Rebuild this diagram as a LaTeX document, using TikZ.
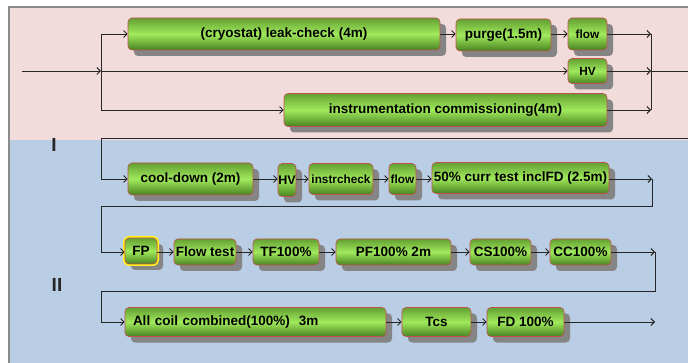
\documentclass[tikz,border=0pt]{standalone}
\usepackage{fontspec}
\setmainfont{Liberation Sans}
\usetikzlibrary{arrows.meta,shadows,calc}
\definecolor{pinkbg}{RGB}{242,220,219}
\definecolor{bluebg}{RGB}{185,205,229}
\definecolor{gtop}{RGB}{100,160,50}
\definecolor{gmid}{RGB}{160,234,92}
\definecolor{gbot}{RGB}{72,130,32}
\definecolor{bord}{RGB}{192,80,77}
\definecolor{framegray}{RGB}{140,140,140}
\tikzset{
  box/.style={rounded corners=4pt, draw=bord, line width=0.6pt,
    top color=gtop, bottom color=gbot, middle color=gmid,
    drop shadow={shadow xshift=6pt, shadow yshift=-6pt, fill=black!48, opacity=1},
    inner sep=0pt, text=black, font=\bfseries\fontsize{13.5}{15}\selectfont},
  sbox/.style={box, font=\bfseries\fontsize{11.8}{13}\selectfont},
  glow/.style={preaction={draw=yellow!90!white, line width=4pt, rounded corners=5pt}},
  conn/.style={line width=0.9pt, draw=black!85, -{Straight Barb[length=3.5pt,width=7pt]}},
  plain/.style={line width=0.9pt, draw=black!85},
  roman/.style={font=\bfseries\fontsize{19}{20}\selectfont, text=black!85},
}
\begin{document}
\begin{tikzpicture}[x=1pt,y=-1pt]
\useasboundingbox (0,0) rectangle (688,363);
\clip (0,0) rectangle (688,363);
% background panels
\fill[white] (0,0) rectangle (688,363);
\fill[bluebg] (9,140) rectangle (700,370);
\fill[pinkbg] (9,7) rectangle (700,140);
\draw[framegray, line width=1.2pt] (700,7) -- (9,7) -- (9,370);
\node[roman] (lI) at (54,145) {I};
\node[roman] (lII) at (57,285) {II};

% row 1
\node[box, minimum width=312pt, minimum height=32pt] (lc) at (284,34) {(cryostat) leak-check (4m)};
\node[box, minimum width=95pt, minimum height=32pt] (purge) at (503.5,35) {purge(1.5m)};
\node[sbox, minimum width=39pt, minimum height=32pt] (flow1) at (587.5,34) {flow};
\node[sbox, minimum width=39pt, minimum height=25pt] (hv1) at (587.5,71) {HV};
\node[box, minimum width=323pt, minimum height=33pt] (instr) at (445.5,110) {instrumentation commissioning(4m)};

% row 2
\node[box, minimum width=125pt, minimum height=32pt] (cool) at (190.5,179) {cool-down (2m)};
\node[sbox, font=\bfseries\fontsize{12.5}{13}\selectfont, minimum width=18pt, minimum height=33pt] (hv2) at (287,180) {HV};
\node[sbox, minimum width=64pt, minimum height=31pt] (ichk) at (341,179) {instrcheck};
\node[sbox, minimum width=27pt, minimum height=31pt] (flow2) at (402.5,179) {flow};
\node[box, minimum width=177pt, minimum height=31pt] (fifty) at (520.5,178) {50\% curr test inclFD (2.5m)};

% row 3
\node[box, glow, minimum width=32pt, minimum height=26pt] (fp) at (141,251) {FP};
\node[box, minimum width=62pt, minimum height=26pt] (ftest) at (205,252) {Flow test};
\node[box, minimum width=66pt, minimum height=26pt] (tf) at (286,252) {TF100\%};
\node[box, minimum width=115pt, minimum height=26pt] (pf) at (393.5,252) {PF100\% 2m};
\node[box, minimum width=61pt, minimum height=26pt] (cs) at (500.5,252) {CS100\%};
\node[box, minimum width=61pt, minimum height=26pt] (cc) at (580.5,252) {CC100\%};

% row 4
\node[box, minimum width=261pt, minimum height=29pt, text width=245pt, align=left] (all) at (255.5,322) {All coil combined(100\%)\ \ 3m};
\node[box, minimum width=69pt, minimum height=29pt] (tcs) at (436.5,322) {Tcs};
\node[box, minimum width=77pt, minimum height=29pt] (fd) at (525.5,322) {FD 100\%};

% coordinates
\coordinate (in) at (22,71);
\coordinate (sp) at (101,71);
\coordinate (mg) at (651,71);
\coordinate (out) at (688,71);
\coordinate (w1) at (688,138);
\coordinate (k1) at (101,138);
\coordinate (j2) at (652,179);
\coordinate (k2) at (101,206);
\coordinate (j3) at (655,252);
\coordinate (k3) at (101,291);
\coordinate (fin) at (655,322);

% row 1 connectors
\draw[conn] (in) -- (sp);
\draw[conn] (sp) |- (lc.west);
\draw[conn] (sp) -- (hv1.west);
\draw[conn] (sp) |- (instr.west);
\draw[conn] (lc.east) -- (purge.west |- lc.east);
\draw[conn] (purge.east |- lc.east) -- (flow1.west);
\draw[conn] (flow1.east) -- (mg |- flow1.east);
\draw[conn] (hv1.east) -- (mg);
\draw[conn] (instr.east) -- (mg |- instr.east);
\draw[plain] (mg |- flow1.east) -- (mg |- instr.east);
\draw[plain] (mg) -- (out);

% row 2 connectors
\draw[conn] (w1) -- (k1) |- (cool.west);
\draw[conn] (cool.east |- j2) -- (hv2.west |- j2);
\draw[conn] (hv2.east |- j2) -- (ichk.west |- j2);
\draw[conn] (ichk.east |- j2) -- (flow2.west |- j2);
\draw[conn] (flow2.east |- j2) -- (fifty.west |- j2);
\draw[conn] (fifty.east |- j2) -- (j2);
\draw[conn] (j2) |- (k2) |- (fp.west |- j3);

% row 3 connectors
\draw[conn] (fp.east |- j3) -- (ftest.west |- j3);
\draw[conn] (ftest.east |- j3) -- (tf.west |- j3);
\draw[conn] (tf.east |- j3) -- (pf.west |- j3);
\draw[conn] (pf.east |- j3) -- (cs.west |- j3);
\draw[conn] (cs.east |- j3) -- (cc.west |- j3);
\draw[conn] (cc.east |- j3) -- (j3);
\draw[conn] (j3) |- (k3) |- (all.west);

% row 4 connectors
\draw[conn] (all.east) -- (tcs.west);
\draw[conn] (tcs.east) -- (fd.west);
\draw[conn] (fd.east) -- (fin);
\end{tikzpicture}
\end{document}
